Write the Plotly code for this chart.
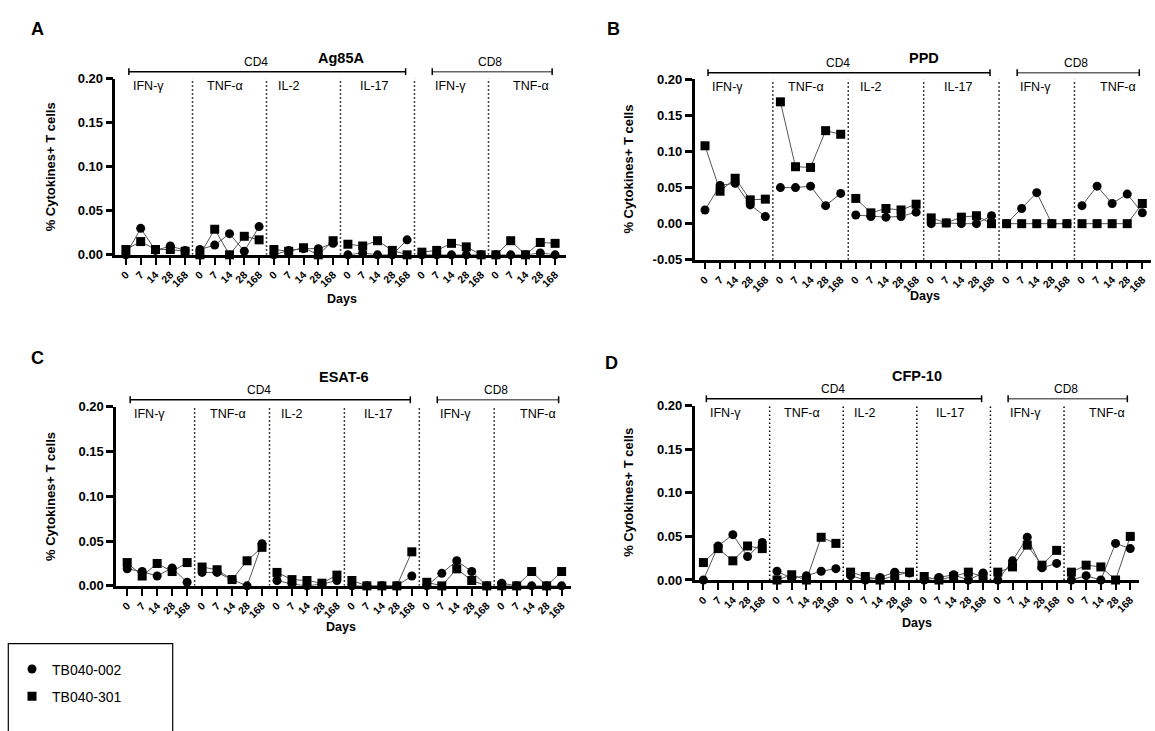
import plotly.graph_objects as go

W, H = 1155, 731
FONT = "Liberation Sans, Arial, sans-serif"

# ---------------- data ----------------
days = ["0", "7", "14", "28", "168"]
cyto_labels = ["IFN-γ", "TNF-α", "IL-2", "IL-17", "IFN-γ", "TNF-α"]
series_names = ["TB040-002", "TB040-301"]
panel_titles = ["Ag85A", "PPD", "ESAT-6", "CFP-10"]
panel_letters = ["A", "B", "C", "D"]

# values per panel: 6 groups x 5 days (CD4 IFN-γ, TNF-α, IL-2, IL-17, CD8 IFN-γ, TNF-α)
A_002 = [0.000, 0.030, 0.005, 0.010, 0.005,
         0.006, 0.011, 0.024, 0.004, 0.032,
         0.000, 0.005, 0.007, 0.007, 0.013,
         0.000, 0.002, 0.000, 0.000, 0.017,
         0.000, 0.000, 0.000, 0.000, 0.000,
         0.000, 0.000, 0.000, 0.002, 0.000]
A_301 = [0.006, 0.015, 0.006, 0.006, 0.004,
         0.000, 0.029, 0.000, 0.021, 0.017,
         0.006, 0.004, 0.008, 0.000, 0.016,
         0.012, 0.010, 0.016, 0.005, 0.000,
         0.003, 0.005, 0.013, 0.009, 0.000,
         0.000, 0.016, 0.000, 0.014, 0.013]

B_002 = [0.019, 0.053, 0.056, 0.026, 0.010,
         0.050, 0.050, 0.052, 0.025, 0.042,
         0.012, 0.010, 0.009, 0.010, 0.016,
         0.000, 0.001, 0.000, 0.000, 0.011,
         0.000, 0.021, 0.043, 0.000, 0.000,
         0.025, 0.052, 0.028, 0.041, 0.015]
B_301 = [0.108, 0.045, 0.063, 0.033, 0.034,
         0.169, 0.079, 0.078, 0.129, 0.124,
         0.035, 0.015, 0.021, 0.019, 0.027,
         0.008, 0.001, 0.009, 0.011, 0.000,
         0.000, 0.000, 0.000, 0.000, 0.000,
         0.000, 0.000, 0.000, 0.000, 0.028]

C_002 = [0.019, 0.016, 0.011, 0.020, 0.004,
         0.015, 0.015, 0.007, 0.000, 0.047,
         0.006, 0.002, 0.000, 0.002, 0.006,
         0.000, 0.000, 0.000, 0.000, 0.011,
         0.000, 0.014, 0.028, 0.016, 0.000,
         0.003, 0.000, 0.000, 0.000, 0.000]
C_301 = [0.026, 0.011, 0.025, 0.016, 0.026,
         0.021, 0.018, 0.007, 0.028, 0.043,
         0.015, 0.007, 0.006, 0.003, 0.012,
         0.006, 0.000, 0.000, 0.000, 0.038,
         0.004, 0.000, 0.019, 0.006, 0.000,
         0.000, 0.000, 0.016, 0.000, 0.016]

D_002 = [0.000, 0.039, 0.052, 0.027, 0.043,
         0.010, 0.002, 0.005, 0.010, 0.013,
         0.005, 0.000, 0.003, 0.009, 0.008,
         0.000, 0.003, 0.006, 0.000, 0.008,
         0.000, 0.022, 0.049, 0.014, 0.019,
         0.000, 0.005, 0.000, 0.042, 0.036]
D_301 = [0.020, 0.036, 0.022, 0.039, 0.036,
         0.000, 0.006, 0.000, 0.049, 0.042,
         0.009, 0.004, 0.000, 0.005, 0.009,
         0.004, 0.000, 0.004, 0.009, 0.004,
         0.009, 0.015, 0.040, 0.017, 0.034,
         0.009, 0.017, 0.015, 0.000, 0.050]

yticks_std = [0.00, 0.05, 0.10, 0.15, 0.20]
yticks_B = [-0.05, 0.00, 0.05, 0.10, 0.15, 0.20]

# ---------------- layout geometry (pixels) ----------------
panels = [
    dict(c=A_002, s=A_301, yt=yticks_std, left=115.4, x0=125.9, dx=14.8, right=566, top=73, bottom=253,
         letter=(37, 22), title_y=52, ytitle_x=50.7, days_xy=(341.7, 298)),
    dict(c=B_002, s=B_301, yt=yticks_B, left=694.6, x0=705.0, dx=15.08, right=1151, top=74, bottom=258,
         letter=(613, 22), title_y=52, ytitle_x=629, days_xy=(925, 295)),
    dict(c=C_002, s=C_301, yt=yticks_std, left=116.1, x0=127.2, dx=14.98, right=571, top=408, bottom=591,
         letter=(37, 358), title_y=378, ytitle_x=50.7, days_xy=(341, 633)),
    dict(c=D_002, s=D_301, yt=yticks_std, left=694.6, x0=703.4, dx=14.72, right=1139, top=407, bottom=585,
         letter=(611, 363), title_y=377, ytitle_x=629, days_xy=(916.7, 629)),
]

def px2x(px):
    return px / W

def py2y(py):
    return 1 - py / H

def broken(vals):
    xs, ys = [], []
    for g in range(6):
        for k in range(5):
            xs.append(g * 5 + k)
            ys.append(vals[g * 5 + k])
        xs.append(None)
        ys.append(None)
    return xs, ys

fig = go.Figure()
shapes = []
annotations = []
tickvals_x = list(range(30))
ticktext_x = days * 6

for i, p in enumerate(panels):
    n = i + 1
    xa = "x" if n == 1 else f"x{n}"
    ya = "y" if n == 1 else f"y{n}"
    xr = [(p["left"] - p["x0"]) / p["dx"], (p["right"] - p["x0"]) / p["dx"]]
    ymin = p["yt"][0]

    # connecting lines
    for vals in (p["c"], p["s"]):
        xs, ys = broken(vals)
        fig.add_trace(go.Scatter(x=xs, y=ys, mode="lines", xaxis=xa, yaxis=ya,
                                 line=dict(color="#555555", width=1), showlegend=False,
                                 hoverinfo="skip", cliponaxis=False))
    for vals, sym, name in ((p["c"], "circle", series_names[0]), (p["s"], "square", series_names[1])):
        fig.add_trace(go.Scatter(x=tickvals_x, y=vals, mode="markers", xaxis=xa, yaxis=ya,
                                 marker=dict(symbol=sym, size=9, color="black"),
                                 name=name, legendgroup=name, showlegend=(n == 1),
                                 cliponaxis=False))

    fig.update_layout(**{
        ("xaxis" if n == 1 else f"xaxis{n}"): dict(
            domain=[px2x(p["left"]), px2x(p["right"])], range=xr, anchor=ya,
            showline=True, linewidth=2.5, linecolor="black", ticks="outside",
            ticklen=7, tickwidth=2, tickcolor="black",
            tickvals=tickvals_x, ticktext=ticktext_x, tickangle=-45,
            tickfont=dict(size=10.5, family=FONT, color="black", weight="bold"),
            showgrid=False, zeroline=False, fixedrange=True),
        ("yaxis" if n == 1 else f"yaxis{n}"): dict(
            domain=[py2y(p["bottom"]), py2y(p["top"])], range=[ymin, 0.20], anchor=xa,
            showline=True, linewidth=2.5, linecolor="black", ticks="outside",
            ticklen=7, tickwidth=2.5, tickcolor="black",
            tickvals=p["yt"], ticktext=[f"{v:.2f}" for v in p["yt"]],
            tickfont=dict(size=13, family=FONT, color="black", weight="bold"),
            showgrid=False, zeroline=False, fixedrange=True),
    })

    # dotted separators
    for b in [4.5, 9.5, 14.5, 19.5, 24.5]:
        shapes.append(dict(type="line", xref=xa, yref=ya, x0=b, x1=b, y0=ymin, y1=0.20,
                           line=dict(color="black", width=1.5, dash="1.5px,2.5px"), layer="below"))

    def ix(idx):
        return px2x(p["x0"] + idx * p["dx"])

    by = p["top"] - 7
    # brackets CD4 / CD8
    for (a, b_, col, lab, lx) in ((0.2, 18.9, "black", "CD4", 8.8), (20.7, 28.8, "#666666", "CD8", 24.6)):
        shapes.append(dict(type="line", xref="paper", yref="paper", x0=ix(a), x1=ix(b_),
                           y0=py2y(by), y1=py2y(by), line=dict(color=col, width=1.5)))
        for e in (a, b_):
            shapes.append(dict(type="line", xref="paper", yref="paper", x0=ix(e), x1=ix(e),
                               y0=py2y(by - 3.5), y1=py2y(by + 3.5), line=dict(color="black", width=1.5)))
        annotations.append(dict(text=lab, xref="paper", yref="paper", x=ix(lx), y=py2y(by - 1),
                                xanchor="center", yanchor="bottom", showarrow=False,
                                font=dict(size=12, family=FONT, color="black")))
    for lx, lab in zip([1.5, 6.7, 11.0, 16.8, 21.9, 27.4], cyto_labels):
        annotations.append(dict(text=lab, xref="paper", yref="paper", x=ix(lx), y=py2y(p["top"] + 8),
                                xanchor="center", yanchor="middle", showarrow=False,
                                font=dict(size=12.5, family=FONT, color="black")))
    # title
    annotations.append(dict(text=panel_titles[i], xref="paper", yref="paper", x=ix(14.5),
                            y=py2y(p["title_y"]), xanchor="center", yanchor="middle", showarrow=False,
                            font=dict(size=14.5, family=FONT, color="black", weight="bold")))
    # letter
    annotations.append(dict(text=panel_letters[i], xref="paper", yref="paper", x=px2x(p["letter"][0]),
                            y=py2y(p["letter"][1]), xanchor="center", yanchor="middle", showarrow=False,
                            font=dict(size=18, family=FONT, color="black", weight="bold")))
    # y title
    annotations.append(dict(text="% Cytokines+ T cells", xref="paper", yref="paper",
                            x=px2x(p["ytitle_x"]), y=py2y((p["top"] + p["bottom"]) / 2),
                            xanchor="center", yanchor="middle", textangle=-90, showarrow=False,
                            font=dict(size=13, family=FONT, color="black", weight="bold")))
    # x title
    annotations.append(dict(text="Days", xref="paper", yref="paper",
                            x=px2x(p["days_xy"][0]), y=py2y(p["days_xy"][1]),
                            xanchor="center", yanchor="middle", showarrow=False,
                            font=dict(size=12.5, family=FONT, color="black", weight="bold")))

# legend box
shapes.append(dict(type="rect", xref="paper", yref="paper", x0=px2x(8.3), x1=px2x(172.7),
                   y0=py2y(650), y1=py2y(745), line=dict(color="black", width=1.2)))

fig.update_layout(
    width=W, height=H,
    margin=dict(l=0, r=0, t=0, b=0),
    paper_bgcolor="white", plot_bgcolor="white",
    font=dict(family=FONT, color="black"),
    shapes=shapes, annotations=annotations,
    showlegend=True,
    legend=dict(x=px2x(12), y=py2y(660), xanchor="left", yanchor="top",
                font=dict(size=14, family=FONT, color="black"),
                bgcolor="rgba(0,0,0,0)", borderwidth=0,
                traceorder="grouped", tracegroupgap=6),
)

fig.write_html(
    "out.html",
    config={"displayModeBar": False},
    post_script="document.body.style.margin='0';document.body.style.padding='0';"
                "document.documentElement.style.overflow='hidden';",
)
